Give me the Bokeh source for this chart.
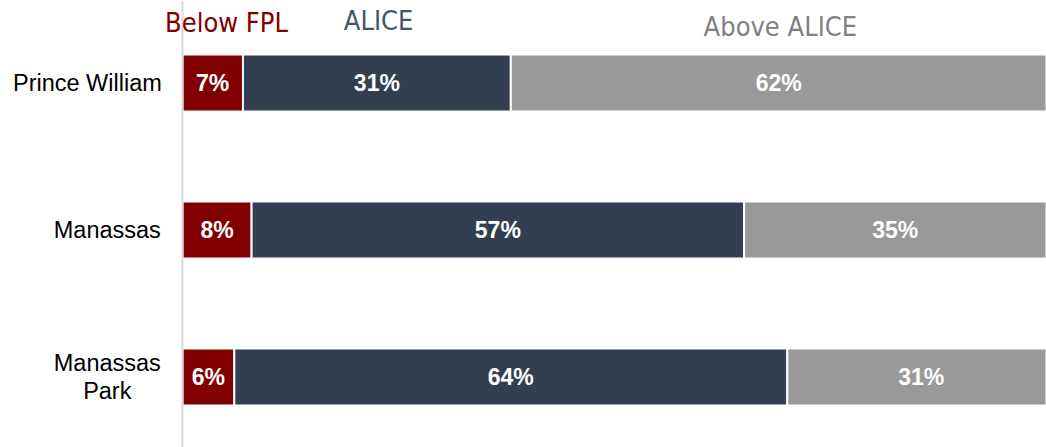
from bokeh.plotting import figure
from bokeh.models import Range1d, ColumnDataSource, LabelSet, Span
from bokeh.core.properties import value
from bokeh.embed import file_html
from bokeh.resources import INLINE

regions = ["Prince William", "Manassas", "Manassas Park"]
region_label_lines = [["Prince William"], ["Manassas"], ["Manassas", "Park"]]
below_fpl = [7, 8, 6]
alice = [31, 57, 64]
above_alice = [62, 35, 31]
series_names = ["Below FPL", "ALICE", "Above ALICE"]
series_colors = ["#800000", "#333F50", "#999999"]
header_colors = ["#800000", "#44546A", "#808080"]
header_x = [5.1, 22.7, 69.2]
header_y = [-0.411, -0.425, -0.384]
region_label_x = [-11.0, -8.7, -8.7]

ypos = list(range(len(regions)))

p = figure(width=1046, height=447, output_backend="svg", toolbar_location=None,
           x_range=Range1d(-21.06, 100), y_range=Range1d(2.480, -0.561),
           min_border=0)

left = [0] * 3
for vals, col in zip([below_fpl, alice, above_alice], series_colors):
    right = [l + v for l, v in zip(left, vals)]
    src = ColumnDataSource(dict(y=ypos, left=left, right=right,
                                mid=[(l + r) / 2 for l, r in zip(left, right)],
                                lab=[f"{v}%" for v in vals]))
    p.hbar(y="y", left="left", right="right", height=0.388, source=src,
           fill_color=col, line_color="white", line_width=2)
    p.add_layout(LabelSet(x="mid", y="y", text="lab", source=src,
                          text_align="center", text_baseline="middle",
                          text_color="white", text_font=value("Liberation Sans"),
                          text_font_style="bold", text_font_size="23px"))
    left = right

p.add_layout(Span(location=0, dimension="height", line_color="#D9D9D9", line_width=2))

hsrc = ColumnDataSource(dict(x=header_x, y=header_y, t=series_names, c=header_colors))
p.add_layout(LabelSet(x="x", y="y", text="t", source=hsrc, text_color="c",
                      text_align="center", text_baseline="middle",
                      text_font=value("DejaVu Sans Condensed"), text_font_size="27px"))

lx, ly, lt = [], [], []
line_gap = 0.095
for x, y, lines in zip(region_label_x, ypos, region_label_lines):
    n = len(lines)
    for k, t in enumerate(lines):
        lx.append(x)
        ly.append(y + (k - (n - 1) / 2) * 2 * line_gap)
        lt.append(t)
rsrc = ColumnDataSource(dict(x=lx, y=ly, t=lt))
p.add_layout(LabelSet(x="x", y="y", text="t", source=rsrc, text_color="black",
                      text_align="center", text_baseline="middle",
                      text_font=value("Liberation Sans"), text_font_size="23.5px"))

p.xaxis.visible = False
p.yaxis.visible = False
p.xgrid.visible = False
p.ygrid.visible = False
p.outline_line_color = None

open("out.html", "w").write(file_html(p, INLINE))
